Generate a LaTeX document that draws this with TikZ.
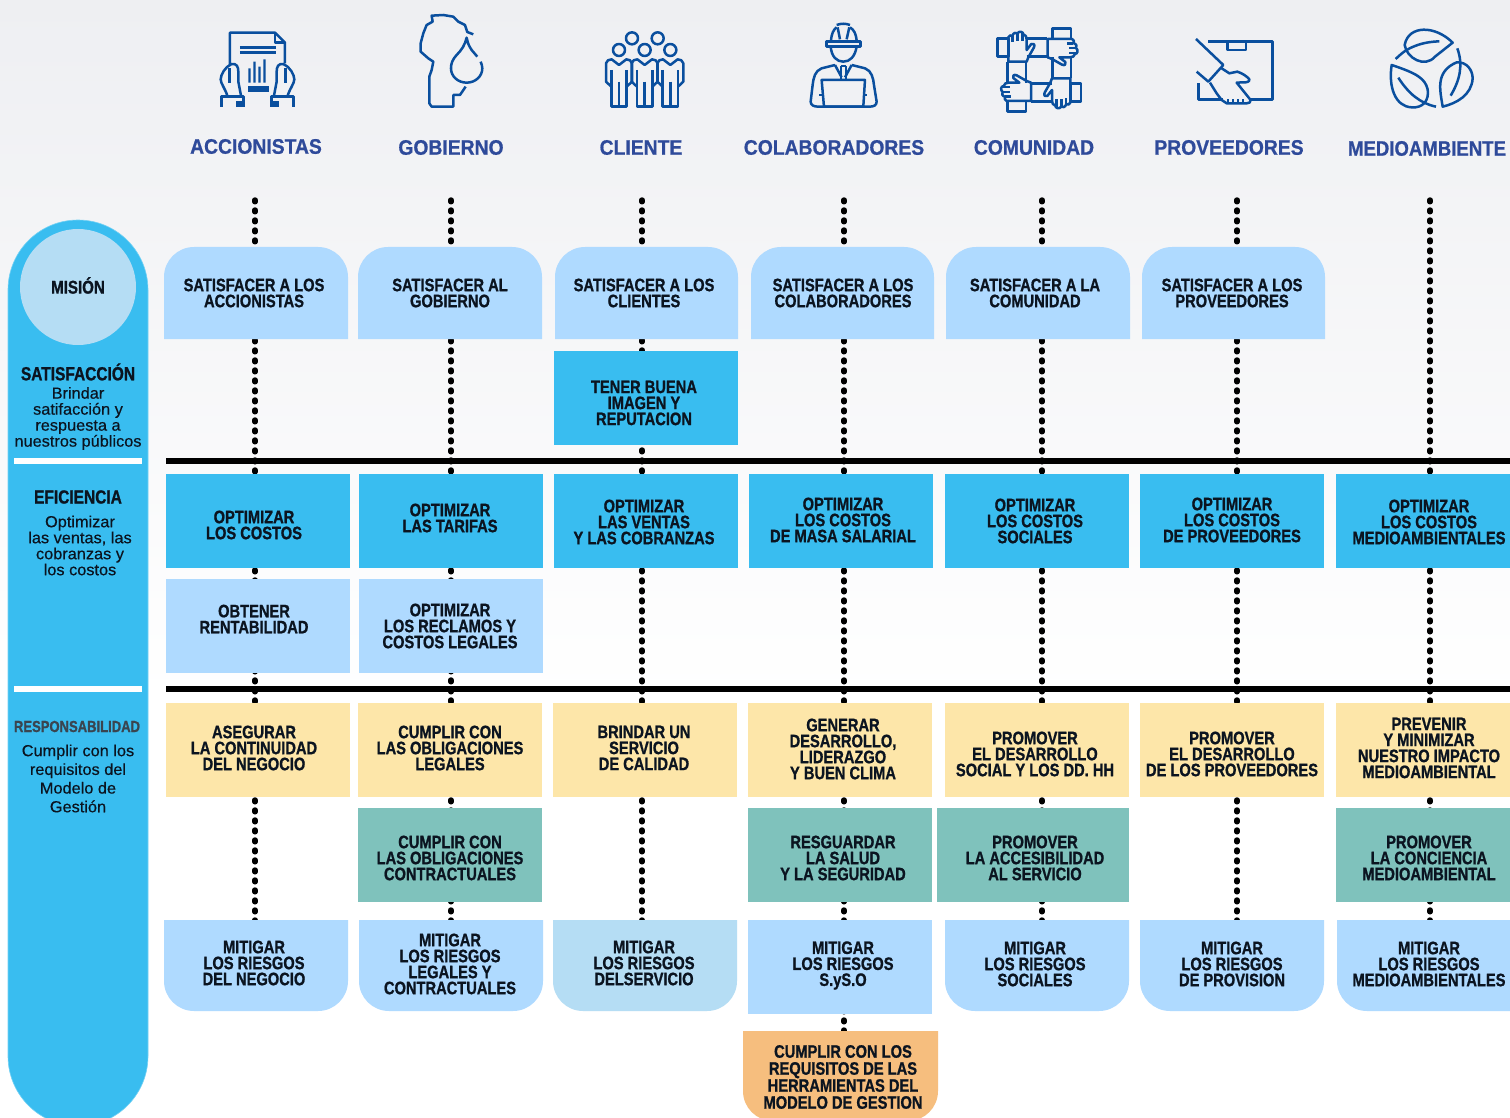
\documentclass[tikz,border=0pt]{standalone}
\usepackage{fontspec}
\setmainfont{Liberation Sans}
\newfontfamily\cond[FakeStretch=0.815,BoldFeatures={FakeBold=1}]{Liberation Sans}
\newfontfamily\headf[FakeStretch=0.92,BoldFeatures={FakeBold=0.8}]{Liberation Sans}
\newfontfamily\headg[FakeStretch=0.885,BoldFeatures={FakeBold=0.8}]{Liberation Sans}
\newfontfamily\sidef[FakeStretch=1.02,FakeBold=0.4]{Liberation Sans}
\usetikzlibrary{backgrounds}
\definecolor{ink}{HTML}{0B1420}
\definecolor{lblue}{HTML}{AFDAFF}
\definecolor{pale}{HTML}{B5DDF4}
\definecolor{sky}{HTML}{39BDF0}
\definecolor{sand}{HTML}{FDE6A9}
\definecolor{teal}{HTML}{7FC2BC}
\definecolor{orng}{HTML}{F6BE7E}
\definecolor{head}{HTML}{2E4A9A}
\definecolor{icon}{HTML}{0A4F9E}
\definecolor{resp}{HTML}{3A4550}
\definecolor{bgtop}{HTML}{EEEFF2}
\tikzset{
  cellbox/.style={rectangle,inner sep=0pt,outer sep=0pt},
  celltxt/.style={align=center,text=ink,inner sep=0pt,font=\cond\bfseries\fontsize{18}{16}\selectfont},
  headtxt/.style={text=head,inner sep=0pt,font=\headf\bfseries\fontsize{21}{24}\selectfont},
  sidetitle/.style={text=ink,inner sep=0pt,font=\cond\bfseries\fontsize{19}{19}\selectfont},
  sidetxt/.style={align=center,text=ink,inner sep=0pt,font=\sidef\fontsize{16}{16}\selectfont},
  dotline/.style={line width=5.4pt,line cap=round,black,dash pattern=on 1.8pt off 8.2pt},
  bar/.style={fill=black},
  whitebar/.style={fill=white},
  ic/.style={draw=icon,line width=2.5pt,line join=round},
  icf/.style={fill=icon},
}
% name, colour, x0,y0,x1,y1
\newcommand{\sqcell}[6]{\node[cellbox,fill=#2,minimum width={(#5-#3)*1pt},minimum height={(#6-#4)*1pt}] (#1) at ({(#3+#5)/2},{(#4+#6)/2}) {};}
\newcommand{\topcell}[6]{\fill[#2] (#3,#6) [rounded corners=30pt] -- (#3,#4) -- (#5,#4) [sharp corners] -- (#5,#6) -- cycle;
  \node[cellbox,minimum width={(#5-#3)*1pt},minimum height={(#6-#4)*1pt}] (#1) at ({(#3+#5)/2},{(#4+#6)/2}) {};}
\newcommand{\botcell}[6]{\fill[#2] (#3,#4) [rounded corners=30pt] -- (#3,#6) -- (#5,#6) [sharp corners] -- (#5,#4) -- cycle;
  \node[cellbox,minimum width={(#5-#3)*1pt},minimum height={(#6-#4)*1pt}] (#1) at ({(#3+#5)/2},{(#4+#6)/2}) {};}
\newcommand{\celltext}[4]{\node[celltxt] (#1t) at (#2,#3) {#4};}
\begin{document}
\begin{tikzpicture}[x=1pt,y=-1pt]
\useasboundingbox (0,0) rectangle (1510,1118);
\clip (0,0) rectangle (1510,1118);
% side column
\fill[sky,draw=sky!70!white,line width=.6pt,rounded corners=70pt] (8,220) rectangle (148,1126);
\node[circle,fill=pale,inner sep=0pt,minimum size=116pt] (mision) at (78,287) {};
\node[sidetitle,font=\cond\bfseries\fontsize{18.5}{18}\selectfont] (misiont) at (78,285.5) {MISIÓN};
\node[sidetitle] (sat) at (78,372) {SATISFACCIÓN};
\node[sidetxt] (satd) at (78,418.5) {Brindar\\satifacción y\\respuesta a\\nuestros públicos};
\fill[whitebar] (14,458) rectangle (142,464);
\node[sidetitle] (efi) at (78,497) {EFICIENCIA};
\node[sidetxt] (efid) at (80,545.5) {Optimizar\\las ventas, las\\cobranzas y\\los costos};
\fill[whitebar] (14,686) rectangle (142,692);
\node[sidetitle,text=resp,font=\cond\bfseries\fontsize{16}{16}\selectfont] (res) at (77,726.5) {RESPONSABILIDAD};
\node[sidetxt,font=\sidef\fontsize{16}{18.7}\selectfont] (resd) at (78,778.5) {Cumplir con los\\requisitos del\\Modelo de\\Gestión};
% headers
\node[headtxt] (h1) at (256,146.5) {ACCIONISTAS};
\node[headtxt] (h2) at (451,147.5) {GOBIERNO};
\node[headtxt] (h3) at (641,147.5) {CLIENTE};
\node[headtxt] (h4) at (834,147.5) {COLABORADORES};
\node[headtxt] (h5) at (1034,147.5) {COMUNIDAD};
\node[headtxt] (h6) at (1229,147.5) {PROVEEDORES};
\node[headtxt,font=\headg\bfseries\fontsize{21}{24}\selectfont] (h7) at (1427,148.5) {MEDIOAMBIENTE};
% bars
\fill[bar] (166,458) rectangle (1510,464);
\fill[bar] (166,686) rectangle (1510,692);
% row: satisfacer
\topcell{a1}{lblue}{164}{247}{348}{339}
\topcell{a2}{lblue}{358}{247}{542}{339}
\topcell{a3}{lblue}{555}{247}{738}{339}
\topcell{a4}{lblue}{751}{247}{934}{339}
\topcell{a5}{lblue}{946}{247}{1130}{339}
\topcell{a6}{lblue}{1142}{247}{1325}{339}
\celltext{a1}{254}{293}{SATISFACER A LOS\\ACCIONISTAS}
\celltext{a2}{450}{293}{SATISFACER AL\\GOBIERNO}
\celltext{a3}{644}{293}{SATISFACER A LOS\\CLIENTES}
\celltext{a4}{843}{293}{SATISFACER A LOS\\COLABORADORES}
\celltext{a5}{1035}{293}{SATISFACER A LA\\COMUNIDAD}
\celltext{a6}{1232}{293}{SATISFACER A LOS\\PROVEEDORES}
\sqcell{tb}{sky}{554}{351}{738}{445}
\celltext{tb}{644}{403}{TENER BUENA\\IMAGEN Y\\REPUTACION}
% row: eficiencia
\sqcell{b1}{sky}{166}{474}{350}{568}
\sqcell{b2}{sky}{359}{474}{543}{568}
\sqcell{b3}{sky}{554}{474}{738}{568}
\sqcell{b4}{sky}{749}{474}{933}{568}
\sqcell{b5}{sky}{945}{474}{1129}{568}
\sqcell{b6}{sky}{1140}{474}{1324}{568}
\sqcell{b7}{sky}{1336}{474}{1512}{568}
\celltext{b1}{254}{525}{OPTIMIZAR\\LOS COSTOS}
\celltext{b2}{450}{518}{OPTIMIZAR\\LAS TARIFAS}
\celltext{b3}{644}{522}{OPTIMIZAR\\LAS VENTAS\\Y LAS COBRANZAS}
\celltext{b4}{843}{520}{OPTIMIZAR\\LOS COSTOS\\DE MASA SALARIAL}
\celltext{b5}{1035}{521}{OPTIMIZAR\\LOS COSTOS\\SOCIALES}
\celltext{b6}{1232}{520}{OPTIMIZAR\\LOS COSTOS\\DE PROVEEDORES}
\celltext{b7}{1429}{522}{OPTIMIZAR\\LOS COSTOS\\MEDIOAMBIENTALES}
\sqcell{c1}{lblue}{166}{579}{350}{673}
\sqcell{c2}{lblue}{359}{579}{543}{673}
\celltext{c1}{254}{619}{OBTENER\\RENTABILIDAD}
\celltext{c2}{450}{626}{OPTIMIZAR\\LOS RECLAMOS Y\\COSTOS LEGALES}
% row: responsabilidad
\sqcell{d1}{sand}{166}{703}{350}{797}
\sqcell{d2}{sand}{358}{703}{542}{797}
\sqcell{d3}{sand}{553}{703}{737}{797}
\sqcell{d4}{sand}{748}{703}{932}{797}
\sqcell{d5}{sand}{945}{703}{1129}{797}
\sqcell{d6}{sand}{1140}{703}{1324}{797}
\sqcell{d7}{sand}{1336}{703}{1512}{797}
\celltext{d1}{254}{748}{ASEGURAR\\LA CONTINUIDAD\\DEL NEGOCIO}
\celltext{d2}{450}{748}{CUMPLIR CON\\LAS OBLIGACIONES\\LEGALES}
\celltext{d3}{644}{748}{BRINDAR UN\\SERVICIO\\DE CALIDAD}
\celltext{d4}{843}{749}{GENERAR\\DESARROLLO,\\LIDERAZGO\\Y BUEN CLIMA}
\celltext{d5}{1035}{754}{PROMOVER\\EL DESARROLLO\\SOCIAL Y LOS DD. HH}
\celltext{d6}{1232}{754}{PROMOVER\\EL DESARROLLO\\DE LOS PROVEEDORES}
\celltext{d7}{1429}{748}{PREVENIR\\Y MINIMIZAR\\NUESTRO IMPACTO\\MEDIOAMBIENTAL}
\sqcell{e2}{teal}{358}{808}{542}{902}
\sqcell{e4}{teal}{748}{808}{932}{902}
\sqcell{e5}{teal}{937}{808}{1129}{902}
\sqcell{e7}{teal}{1336}{808}{1512}{902}
\celltext{e2}{450}{858}{CUMPLIR CON\\LAS OBLIGACIONES\\CONTRACTUALES}
\celltext{e4}{843}{858}{RESGUARDAR\\LA SALUD\\Y LA SEGURIDAD}
\celltext{e5}{1035}{858}{PROMOVER\\LA ACCESIBILIDAD\\AL SERVICIO}
\celltext{e7}{1429}{858}{PROMOVER\\LA CONCIENCIA\\MEDIOAMBIENTAL}
% row: mitigar
\botcell{f1}{lblue}{164}{920}{348}{1011}
\botcell{f2}{lblue}{359}{920}{543}{1011}
\botcell{f3}{pale}{553}{920}{737}{1011}
\sqcell{f4}{lblue}{748}{920}{932}{1014}
\botcell{f5}{lblue}{945}{920}{1129}{1011}
\botcell{f6}{lblue}{1140}{920}{1324}{1011}
\botcell{f7}{lblue}{1337}{920}{1540}{1011}
\celltext{f1}{254}{963}{MITIGAR\\LOS RIESGOS\\DEL NEGOCIO}
\celltext{f2}{450}{964}{MITIGAR\\LOS RIESGOS\\LEGALES Y\\CONTRACTUALES}
\celltext{f3}{644}{963}{MITIGAR\\LOS RIESGOS\\DELSERVICIO}
\celltext{f4}{843}{965.5}{MITIGAR\\LOS RIESGOS\\S.yS.O}
\celltext{f5}{1035}{964}{MITIGAR\\LOS RIESGOS\\SOCIALES}
\celltext{f6}{1232}{964}{MITIGAR\\LOS RIESGOS\\DE PROVISION}
\celltext{f7}{1429}{964}{MITIGAR\\LOS RIESGOS\\MEDIOAMBIENTALES}
\botcell{g4}{orng}{743}{1031}{938}{1121}
\node[celltxt,font=\cond\bfseries\fontsize{18}{17}\selectfont] (g4t) at (843,1077) {CUMPLIR CON LOS\\REQUISITOS DE LAS\\HERRAMIENTAS DEL\\MODELO DE GESTION};
% connectors, behind the boxes
\coordinate (t1) at (255,200);
\coordinate (t2) at (451,200);
\coordinate (t3) at (642,200);
\coordinate (t4) at (844,200);
\coordinate (t5) at (1042,200);
\coordinate (t6) at (1237,200);
\coordinate (t7) at (1430,200);
\begin{scope}[on background layer]
\fill[white] (0,0) rectangle (1510,1118);
\shade[top color=bgtop,bottom color=white] (0,0) rectangle (1510,700);
\draw[dotline] (t1) -- (t1 |- f1.north);
\draw[dotline] (t2) -- (t2 |- f2.north);
\draw[dotline] (t3) -- (t3 |- f3.north);
\draw[dotline] (t4) -- (t4 |- g4.north);
\draw[dotline] (t5) -- (t5 |- f5.north);
\draw[dotline] (t6) -- (t6 |- f6.north);
\draw[dotline] (t7) -- (t7 |- f7.north);
\end{scope}
% ---------- icons (drawn at 3x crop coordinates)
% accionistas
\begin{scope}[shift={(170,0)},x=.3333pt,y=-.3333pt]
\draw[ic] (180,195) -- (180,98) -- (315,98) -- (345,128) -- (345,190);
\draw[ic] (315,98) -- (315,128) -- (345,128);
\draw[ic] (210,142) -- (318,142) (210,158) -- (318,158);
\fill[icf] (235,205) rectangle (242,248) (250,185) rectangle (257,248) (265,200) rectangle (272,248) (280,178) rectangle (287,248);
\fill[icf] (234,258) rectangle (297,275);
\foreach \m/\o in {1/0,-1/525}{
\begin{scope}[shift={(\o,0)},xscale=\m]
\draw[ic] (172,287) .. controls (165,265) and (152,250) .. (152,238) .. controls (152,225) and (165,200) .. (185,192) .. controls (200,190) and (205,200) .. (205,215) -- (205,245) -- (213,287);
\draw[ic] (178,205) -- (178,250);
\draw[ic] (155,320) -- (155,290) -- (220,290) -- (220,320);
\fill[icf] (198,304) rectangle (218,320);
\end{scope}}
% gobierno
\draw[ic] (910,103) -- (892,96) -- (885,75) -- (865,65) -- (850,50) -- (820,45) -- (785,47) -- (788,65) -- (770,75) -- (760,100) -- (752,130) -- (752,155) -- (775,175) -- (790,185) -- (785,210) -- (778,230) -- (778,310) -- (785,320) -- (850,320) -- (850,285) -- (870,285) -- (887,260);
\draw[ic] (922,170) -- (905,150) .. controls (895,135) and (892,125) .. (890,113) .. controls (885,135) and (875,150) .. (860,165) .. controls (848,178) and (843,190) .. (843,205) .. controls (843,230) and (865,248) .. (890,248) .. controls (915,248) and (937,230) .. (937,205) .. controls (937,198) and (935,192) .. (932,185);
\end{scope}
% cliente & colaboradores
\begin{scope}[shift={(570,0)},x=.3333pt,y=-.3333pt]
\foreach \cx/\cy in {186/115,263/115,147/150,224/150,301/150}{
  \draw[ic] (\cx,\cy) circle[radius=18pt*.3333];
}
\foreach \cx in {147,224,301}{
\begin{scope}[shift={(\cx,0)}]
\draw[ic] (-23,210) -- (-23,320) -- (23,320) -- (23,210);
\draw[ic] (0,245) -- (0,320);
\draw[ic] (-23,260) -- (-39,245) -- (-39,190) .. controls (-38,182) and (-30,178) .. (-22,178) -- (0,195) -- (22,178) .. controls (30,178) and (38,182) .. (39,190) -- (39,245) -- (23,260);
\end{scope}}
% worker
\draw[ic] (770,125) rectangle (872,140);
\draw[ic] (783,122) .. controls (785,100) and (790,90) .. (800,82);
\draw[ic] (860,122) .. controls (858,100) and (852,90) .. (840,82);
\draw[ic] (800,75) .. controls (812,70) and (828,70) .. (840,75);
\draw[ic] (810,118) -- (803,82) (830,118) -- (838,82);
\draw[ic] (782,140) .. controls (785,170) and (800,185) .. (820,185) .. controls (840,185) and (855,170) .. (860,140);
\draw[ic] (795,195) -- (755,205) .. controls (735,212) and (730,235) .. (728,255) -- (722,305) .. controls (722,316) and (732,320) .. (745,320) -- (898,320) .. controls (912,320) and (920,316) .. (920,305) -- (912,255) .. controls (910,235) and (905,212) .. (885,205) -- (845,195);
\draw[ic] (795,195) -- (815,232) (845,195) -- (825,232);
\draw[ic] (813,198) -- (813,238) (828,198) -- (828,238) (813,198) -- (828,198);
\draw[ic] (755,240) -- (885,240) -- (880,320) -- (762,320) -- cycle;
\draw[ic] (748,285) -- (760,285) (882,285) -- (890,285);
\end{scope}
% comunidad & proveedores
\begin{scope}[shift={(960,0)},x=.3333pt,y=-.3333pt]
\foreach \a in {0,90,180,270}{
\begin{scope}[rotate around={\a*-1:(238,210)}]
\draw[ic] (113,115) rectangle (145,170);
\draw[ic] (145,185) -- (145,112) .. controls (148,106) and (153,104) .. (157,108) .. controls (160,98) and (168,96) .. (172,100) .. controls (178,92) and (190,95) .. (190,103) .. controls (197,105) and (200,110) .. (200,118) -- (200,150) -- (214,132) .. controls (220,128) and (226,134) .. (222,142) -- (205,172) -- (200,185) -- cycle;
\draw[ic] (158,108) -- (158,126) (172,100) -- (172,122) (187,100) -- (187,122);
\draw[ic] (200,115) -- (262,115) (200,170) -- (262,170);
\end{scope}}
% proveedores
\draw[ic] (745,125) -- (938,125) -- (938,298) -- (870,298);
\draw[ic] (790,298) -- (715,298) -- (715,248);
\draw[ic] (802,125) -- (802,150) -- (858,150) -- (858,125);
\draw[ic] (708,117) -- (790,195) -- (745,245) -- (710,215);
\draw[ic] (782,203) -- (808,220) -- (832,215) .. controls (848,220) and (862,230) .. (868,238) .. controls (870,245) and (860,248) .. (850,247) -- (830,248) -- (872,300) .. controls (872,307) and (868,310) .. (860,310) -- (800,310) -- (785,300) -- (770,280) -- (750,248);
\draw[ic,line width=1.8pt] (805,298) -- (805,308) (820,298) -- (820,308) (835,298) -- (835,308) (850,298) -- (850,308);
\end{scope}
% medioambiente
\begin{scope}[shift={(1300,0)},x=.3333pt,y=-.3333pt]
\draw[ic] (458,128) .. controls (405,75) and (325,75) .. (314,135) .. controls (320,175) and (375,205) .. (405,170) -- cycle;
\draw[ic] (287,177) .. controls (310,155) and (320,148) .. (345,138) .. controls (370,128) and (395,125) .. (418,124);
\draw[ic] (428,320) .. controls (420,270) and (405,215) .. (470,187) .. controls (500,185) and (518,210) .. (518,235) .. controls (515,285) and (470,310) .. (428,320) -- cycle;
\draw[ic] (472,145) .. controls (490,195) and (480,240) .. (452,287);
\draw[ic] (275,195) .. controls (265,260) and (285,320) .. (335,322) .. controls (370,325) and (388,300) .. (383,268) .. controls (375,235) and (350,220) .. (275,195) -- cycle;
\draw[ic] (295,233) .. controls (325,280) and (360,310) .. (408,320);
\end{scope}
\end{tikzpicture}
\end{document}
